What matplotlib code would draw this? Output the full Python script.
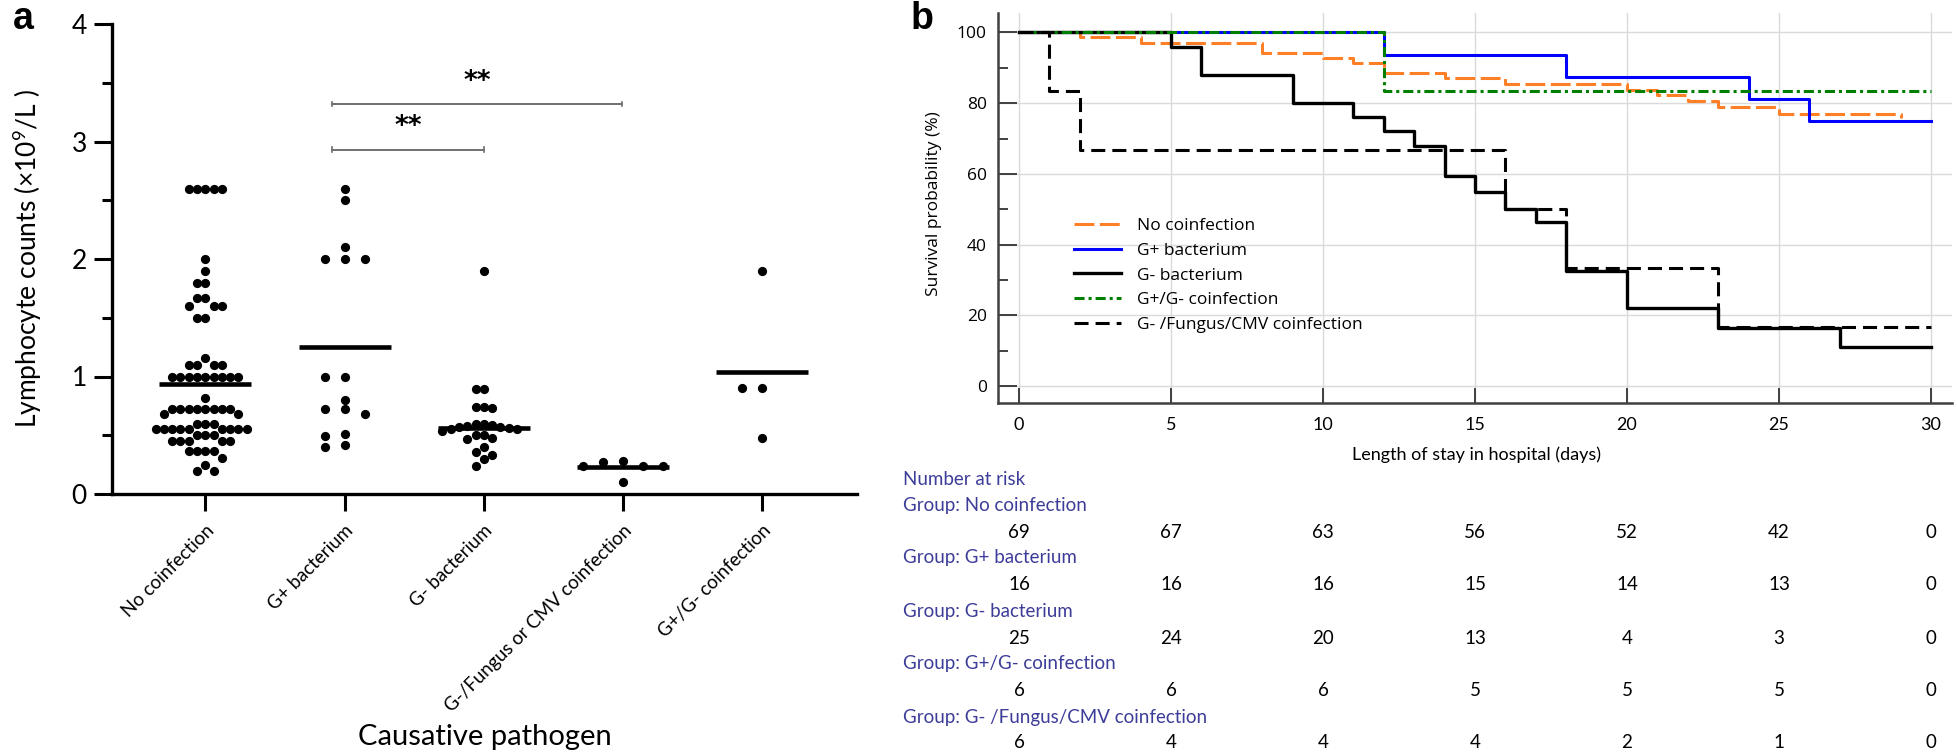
import matplotlib.pyplot as plt
import numpy as np
from matplotlib.transforms import blended_transform_factory

plt.rcParams['mathtext.fontset'] = 'custom'
plt.rcParams['mathtext.rm'] = 'Lato'

# ---------------- panel a data ----------------
pathogens = ["No coinfection", "G+ bacterium", "G- bacterium",
             "G-/Fungus or CMV coinfection", "G+/G- coinfection"]
no_coinfection = [2.6, 2.6, 2.6, 2.6, 2.6, 2.0, 1.9, 1.8, 1.8, 1.67, 1.67,
                  1.6, 1.6, 1.6, 1.5, 1.5, 1.16, 1.1, 1.1, 1.1, 1.1,
                  1.0, 1.0, 1.0, 1.0, 1.0, 1.0, 1.0, 1.0, 1.0, 0.82,
                  0.72, 0.72, 0.72, 0.72, 0.72, 0.72, 0.72, 0.72, 0.68, 0.68,
                  0.6, 0.6, 0.6, 0.55, 0.55, 0.55, 0.55, 0.55, 0.55, 0.55, 0.55, 0.55,
                  0.5, 0.5, 0.5, 0.45, 0.45, 0.45, 0.45, 0.45,
                  0.37, 0.37, 0.37, 0.37, 0.31, 0.25, 0.2, 0.2]
g_pos = [2.6, 2.5, 2.1, 2.0, 2.0, 2.0, 1.0, 1.0, 0.8, 0.72, 0.72, 0.68,
         0.51, 0.49, 0.42, 0.4]
g_neg = [1.9, 0.89, 0.89, 0.74, 0.74, 0.73, 0.6, 0.6, 0.59, 0.58, 0.57, 0.57,
         0.56, 0.55, 0.55, 0.54, 0.5, 0.5, 0.48, 0.47, 0.4, 0.36, 0.33, 0.3, 0.24]
g_fungus = [0.28, 0.27, 0.24, 0.24, 0.24, 0.10]
g_pos_neg = [1.9, 0.9, 0.9, 0.48]
group_means = [0.94, 1.25, 0.56, 0.23, 1.04]

# ---------------- panel b data ----------------
km_labels = ["No coinfection", "G+ bacterium", "G- bacterium",
             "G+/G- coinfection", "G- /Fungus/CMV coinfection"]
t_no = [0, 2, 4, 8, 10, 11, 12, 14, 16, 20, 21, 22, 23, 25, 29]
s_no = [100, 98.6, 97.1, 94.2, 92.8, 91.3, 88.4, 87.0, 85.5, 83.7, 82.2, 80.6, 78.9, 77.0, 75.8]
t_gp = [0, 12, 18, 24, 26, 30]
s_gp = [100, 93.75, 87.5, 81.25, 75, 75]
t_gn = [0, 5, 6, 9, 11, 12, 13, 14, 15, 16, 17, 18, 20, 23, 27, 30]
s_gn = [100, 96, 88, 80, 76, 72, 68, 59.5, 55, 50, 46.5, 32.5, 22, 16.5, 11, 11]
t_gpgn = [0, 12, 30]
s_gpgn = [100, 83.3, 83.3]
t_fu = [0, 1, 2, 16, 18, 23, 30]
s_fu = [100, 83.3, 66.7, 50, 33.3, 16.7, 16.7]

risk_days = [0, 5, 10, 15, 20, 25, 30]
risk_groups = ["Group: No coinfection", "Group: G+ bacterium", "Group: G- bacterium",
               "Group: G+/G- coinfection", "Group: G- /Fungus/CMV coinfection"]
risk_no = [69, 67, 63, 56, 52, 42, 0]
risk_gp = [16, 16, 16, 15, 14, 13, 0]
risk_gn = [25, 24, 20, 13, 4, 3, 0]
risk_gpgn = [6, 6, 6, 5, 5, 5, 0]
risk_fu = [6, 4, 4, 4, 2, 1, 0]

W, H = 1957, 752
fig = plt.figure(figsize=(W / 100, H / 100), dpi=100)


def fx(px):
    return px / W


def fy(py):
    return 1 - py / H


# ================= panel a =================
ax = fig.add_axes([fx(112), fy(494), fx(857 - 112), (494 - 24) / H])
ax.set_xlim(-0.67, 4.68)
ax.set_ylim(0, 4)
px_per_cat = 139.3
px_per_unit = 117.4
row_gap = [8.3, 20, 8.3, 20, 20]   # horizontal dot spacing (px) per column


def swarm(vals, gap, dot=9.0):
    placed = []
    offs = []
    cands = [0]
    for k in range(1, 40):
        cands += [-k * gap, k * gap]
    for v in vals:
        y = v * px_per_unit
        for c in cands:
            if all(abs(c - px) >= gap - 0.01 or abs(y - py) >= dot for px, py in placed):
                break
        placed.append((c, y))
        offs.append(c)
    return np.array(offs) / px_per_cat


groups = [no_coinfection, g_pos, g_neg, g_fungus, g_pos_neg]
for i, vals in enumerate(groups):
    order = np.argsort(vals)[::-1]
    v = np.array(vals)[order]
    off = swarm(v, row_gap[i])
    ax.scatter(i + off, v, s=44, color='black', zorder=3, linewidths=0)
    ax.plot([i - 0.33, i + 0.33], [group_means[i]] * 2, color='black', lw=3.3, zorder=4,
            solid_capstyle='butt')

# significance brackets
for x0, x1, y, ys in [(0.91, 2.0, 2.93, 3.12), (0.91, 2.99, 3.32, 3.51)]:
    ax.plot([x0, x1], [y, y], color='#707070', lw=1.4)
    ax.plot([x0, x0], [y - 0.02, y + 0.02], color='#707070', lw=1.2)
    ax.plot([x1, x1], [y - 0.02, y + 0.02], color='#707070', lw=1.2)
    ax.text((x0 + x1) / 2, ys, "**", ha='center', va='center', fontsize=19,
            fontweight='bold', family='DejaVu Sans')

for side in ['top', 'right']:
    ax.spines[side].set_visible(False)
for side in ['left', 'bottom']:
    ax.spines[side].set_linewidth(2.4)
ax.set_yticks([0, 1, 2, 3, 4])
ax.set_yticks([0.5, 1.5, 2.5, 3.5], minor=True)
ax.set_yticklabels(['0', '1', '2', '3', '4'], fontsize=19, family='Lato')
ax.tick_params(axis='y', which='major', length=13, width=2.2, pad=5)
ax.tick_params(axis='y', which='minor', length=7, width=2.2)
ax.set_xticks(range(len(pathogens)))
ax.set_xticklabels(pathogens, rotation=45, ha='right', rotation_mode='anchor',
                   fontsize=13.5, family='Lato')
ax.tick_params(axis='x', length=12, width=2.2, pad=8)

fig.text(fx(27), fy(259), "Lymphocyte counts (×10$^9$/L )", rotation=90,
         ha='center', va='center', fontsize=19, family='Lato')
fig.text(fx(485), fy(737), "Causative pathogen", ha='center', va='center',
         fontsize=21, family='Lato')
fig.text(fx(13), fy(1), "a", ha='left', va='top', fontsize=27, fontweight='bold',
         family='Liberation Sans')
fig.text(fx(911), fy(1), "b", ha='left', va='top', fontsize=27, fontweight='bold',
         family='Liberation Sans')

# ================= panel b =================
bx = fig.add_axes([fx(998), fy(403), fx(1952 - 998), (403 - 13) / H])
bx.set_xlim(-0.69, 30.69)
bx.set_ylim(-4.8, 105.5)

bx.plot(t_no, s_no, drawstyle='steps-post', color='#ff7f27', lw=2.2,
        dashes=(6.5, 1.8), label=km_labels[0], zorder=3)
bx.plot(t_gp, s_gp, drawstyle='steps-post', color='#0000ff', lw=2.2,
        label=km_labels[1], zorder=3)
bx.plot(t_gn, s_gn, drawstyle='steps-post', color='black', lw=2.4,
        label=km_labels[2], zorder=4)
bx.plot(t_gpgn, s_gpgn, drawstyle='steps-post', color='#007f00', lw=2.2,
        dashes=(3.3, 1.3, 1.0, 1.3), label=km_labels[3], zorder=5)
bx.plot(t_fu, s_fu, drawstyle='steps-post', color='black', lw=2.2,
        dashes=(4.6, 2.3), label=km_labels[4], zorder=6)

bx.legend(loc='upper left', bbox_to_anchor=(0.08, 0.475), frameon=False,
          borderpad=0, borderaxespad=0, handlelength=2.7, handletextpad=0.9,
          labelspacing=0.5, prop={'family': 'Open Sans', 'size': 12.5})

for side in ['top', 'right']:
    bx.spines[side].set_visible(False)
for side in ['left', 'bottom']:
    bx.spines[side].set_linewidth(1.8)
    bx.spines[side].set_color('#404040')
bx.set_xticks(risk_days)
bx.set_xticklabels([str(d) for d in risk_days], fontsize=13, family='Lato')
bx.set_yticks([0, 20, 40, 60, 80, 100])
bx.set_yticks([10, 30, 50, 70, 90], minor=True)
bx.set_yticklabels(['0', '20', '40', '60', '80', '100'], fontsize=12.5, family='Open Sans')
bx.tick_params(axis='y', which='major', direction='in', length=14, width=1.4,
               color='#404040', pad=8)
bx.tick_params(axis='y', which='minor', direction='in', length=7, width=1.4,
               color='#404040')
bx.tick_params(axis='x', direction='in', length=11, width=1.4, color='#404040', pad=10)
bx.grid(True, color='#dadada', lw=1)
bx.set_axisbelow(True)

fig.text(fx(934), fy(204), "Survival probability (%)", rotation=90, ha='center',
         va='center', fontsize=12.5, family='Open Sans')
fig.text(fx(1477), fy(455), "Length of stay in hospital (days)", ha='center',
         va='center', fontsize=13, family='Lato')

# number at risk table
tr = blended_transform_factory(bx.transData, fig.transFigure)
tab_color = '#3d3d99'
fig.text(fx(903), fy(479), "Number at risk", ha='left', va='center',
         fontsize=13.5, family='Lato', color=tab_color)
risk_rows = [risk_no, risk_gp, risk_gn, risk_gpgn, risk_fu]
label_y = [506, 558, 611, 664, 718]
num_y = [532, 584, 638, 691, 743]
for name, row, ly, ny in zip(risk_groups, risk_rows, label_y, num_y):
    fig.text(fx(903), fy(ly), name, ha='left', va='center', fontsize=13.5,
             family='Lato', color=tab_color)
    for d, n in zip(risk_days, row):
        bx.text(d, fy(ny), str(n), transform=tr, ha='center', va='center',
                fontsize=13.5, family='Lato', color='black', clip_on=False)

fig.savefig("out.png", dpi=100)
